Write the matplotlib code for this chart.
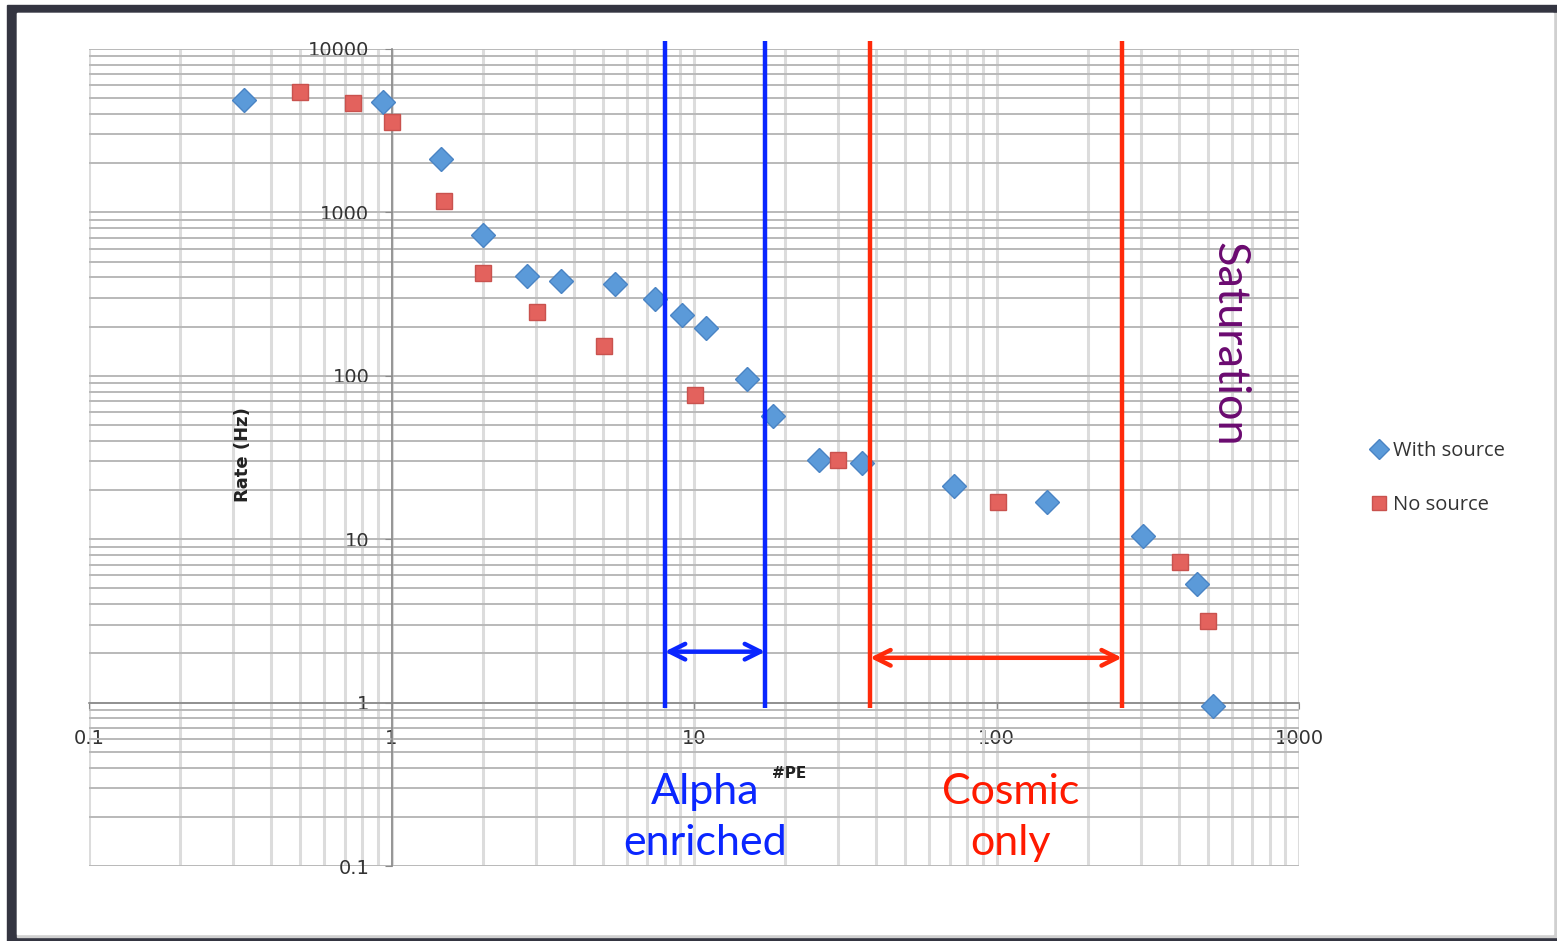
import matplotlib.pyplot as plt
from matplotlib.patches import Rectangle
from matplotlib.ticker import LogLocator, FixedLocator, NullFormatter

# data
pe_with = [0.325, 0.94, 1.46, 2.0, 2.8, 3.63, 5.48, 7.43, 9.12, 10.96, 15.0, 18.2,
           25.9, 35.9, 72.4, 147, 305, 460, 520]
rate_with = [4900, 4750, 2130, 730, 410, 383, 367, 297, 237, 197, 95, 57,
             30.7, 29.4, 21.3, 17.0, 10.5, 5.3, 0.95]
pe_no = [0.50, 0.746, 1.0, 1.49, 2.0, 3.03, 5.04, 10.07, 29.9, 101, 404, 500]
rate_no = [5490, 4640, 3550, 1180, 428, 247, 153, 76.7, 30.7, 17.0, 7.3, 3.18]

alpha_cut = [8.0, 17.2]
cosmic_cut = [38.2, 260]
xticks = [0.1, 1, 10, 100, 1000]
yticks = [0.1, 1, 10, 100, 1000, 10000]

W, H = 1557, 941
fig = plt.figure(figsize=(W/100, H/100), dpi=100)

# window-like frame
fig.patches.append(Rectangle((7/W, 0), 1, 1 - 5/H, transform=fig.transFigure,
                             color='#343541', zorder=-10))
fig.patches.append(Rectangle((17/W, 4/H), 1, 1 - 17/H, transform=fig.transFigure,
                             color='#d0d0d0', zorder=-9))
fig.patches.append(Rectangle((17/W, 7/H), 1536/W, 1 - 20/H, transform=fig.transFigure,
                             color='white', zorder=-8))

ax = fig.add_axes([89/W, 1 - 866/H, 1210/W, 817/H])
ax.set_facecolor('none')
ax.set_xscale('log')
ax.set_yscale('log')
ax.set_xlim(0.1, 1000)
ax.set_ylim(0.1, 10000)

ax.grid(True, which='both', axis='x', color='#dcdcdc', lw=2.2)
ax.grid(True, which='both', axis='y', color='#b9b9b9', lw=1.4)
ax.set_axisbelow(True)

for s in ['top', 'right']:
    ax.spines[s].set_visible(False)
ax.spines['left'].set_position(('data', 1))
ax.spines['bottom'].set_position(('data', 1))
for s in ['left', 'bottom']:
    ax.spines[s].set_color('#8a8a8a')
    ax.spines[s].set_linewidth(1.2)

ax.xaxis.set_major_locator(FixedLocator(xticks))
ax.yaxis.set_major_locator(FixedLocator(yticks))
ax.xaxis.set_minor_locator(LogLocator(base=10, subs=range(2, 10)))
ax.yaxis.set_minor_locator(LogLocator(base=10, subs=range(2, 10)))
ax.xaxis.set_minor_formatter(NullFormatter())
ax.yaxis.set_minor_formatter(NullFormatter())
ax.set_xticklabels([str(t) for t in xticks])
ax.set_yticklabels([str(t) for t in yticks])
ax.tick_params(axis='x', which='major', direction='out', length=4, pad=15,
               color='#8a8a8a', labelsize=14, labelcolor='#333333')
ax.tick_params(axis='y', which='major', direction='out', length=5, pad=11,
               color='#8a8a8a', labelsize=14, labelcolor='#333333')
ax.tick_params(which='minor', length=0)

ax.plot(pe_with, rate_with, linestyle='', marker='D', ms=12.5, color='#5b9ad9',
        mec='#4a84c4', mew=1, label='With source', zorder=5)
ax.plot(pe_no, rate_no, linestyle='', marker='s', ms=12, color='#e3625d',
        mec='#c9524e', mew=1, label='No source', zorder=5)

# region markers
ax.vlines(alpha_cut, 0.93, 11250, color='#0a26ff', lw=3.2, clip_on=False, zorder=6)
ax.vlines(cosmic_cut, 0.93, 11250, color='#ff2a0a', lw=3.2, clip_on=False, zorder=6)
ax.annotate('', xy=(alpha_cut[0], 2.05), xytext=(alpha_cut[1], 2.05),
            arrowprops=dict(arrowstyle='<->', color='#0a26ff', lw=3.2,
                            mutation_scale=28, shrinkA=0, shrinkB=0), zorder=6)
ax.annotate('', xy=(cosmic_cut[0], 1.88), xytext=(cosmic_cut[1], 1.88),
            arrowprops=dict(arrowstyle='<->', color='#ff2a0a', lw=3.2,
                            mutation_scale=28, shrinkA=0, shrinkB=0), zorder=6)

big = dict(family='Lato', fontsize=31, ha='center', va='center')
fig.text(705/W, 1 - 792/H, 'Alpha', color='#0a26ff', **big)
fig.text(705/W, 1 - 843/H, 'enriched', color='#0a26ff', **big)
fig.text(1011/W, 1 - 792/H, 'Cosmic', color='#ff1a00', **big)
fig.text(1011/W, 1 - 843/H, 'only', color='#ff1a00', **big)
fig.text(1229/W, 1 - 344/H, 'Saturation', color='#6b0a70', family='Lato',
         fontsize=32.5, ha='center', va='center', rotation=-90)
fig.text(789/W, 1 - 774/H, '#PE', fontsize=11, fontweight='bold', color='#222222',
         ha='center', va='center')
fig.text(243/W, 1 - 455/H, 'Rate (Hz)', fontsize=13, fontweight='bold', color='#222222',
         ha='center', va='center', rotation=90)

fig.legend(loc='center left', bbox_to_anchor=(1353/W, 1 - 478/H), frameon=False,
           prop={'family': 'Open Sans', 'size': 14.5}, labelcolor='#333333',
           markerscale=0.85, handlelength=0.8, handletextpad=0.3, labelspacing=1.65)

plt.savefig('out.png', dpi=100)
